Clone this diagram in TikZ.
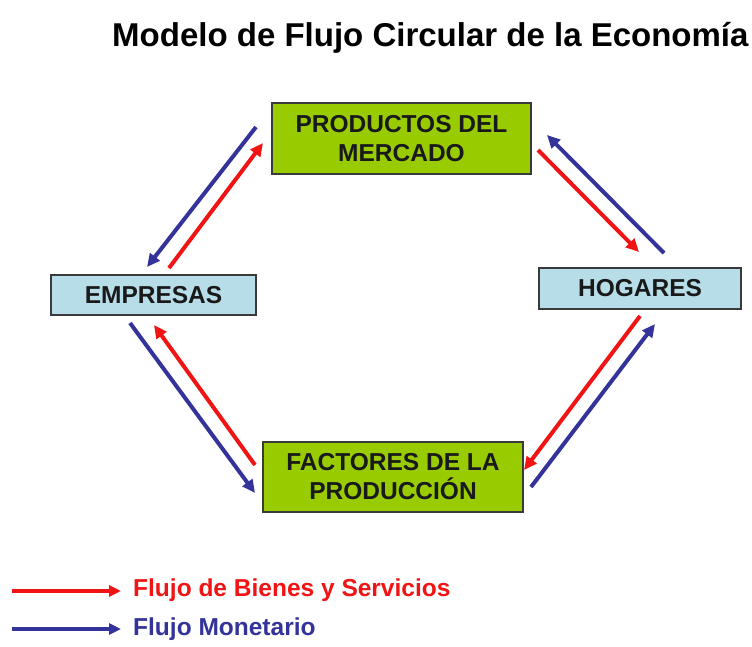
\documentclass[tikz,border=0pt]{standalone}
\usepackage{fontspec}
\setmainfont{Liberation Sans}
\usetikzlibrary{arrows.meta}
\definecolor{fred}{HTML}{F01414}
\definecolor{fblue}{HTML}{333399}
\definecolor{fgreen}{HTML}{99CC00}
\definecolor{flblue}{HTML}{B7DEE8}
\definecolor{fborder}{HTML}{3A3A3A}
\begin{document}
\begin{tikzpicture}[x=1pt,y=-1pt,
  box/.style={draw=fborder, line width=1.5pt, inner sep=0pt, align=center,
    font=\fontsize{24.5}{29}\selectfont\bfseries, text=black!90},
  gbox/.style={box, fill=fgreen},
  bbox/.style={box, fill=flblue},
  flow/.style={line width=4pt, -{Triangle[length=13pt,width=12pt]}},
  legflow/.style={line width=4pt, -{Triangle[length=12pt,width=11pt]}},
  legtext/.style={anchor=west, inner sep=0pt, font=\fontsize{24.5}{28}\selectfont\bfseries}
]
\useasboundingbox (0,0) rectangle (752,646);
\fill[white] (0,0) rectangle (752,646);

\node[anchor=base west, inner sep=0pt, font=\fontsize{33}{36}\selectfont\bfseries] (title) at (112,46) {Modelo de Flujo Circular de la Economía};

\node[gbox, minimum width=259pt, minimum height=71pt] (prod) at (401.5,138.5) {PRODUCTOS DEL\\MERCADO};
\node[bbox, minimum width=205pt, minimum height=40pt] (emp) at (153.5,295) {EMPRESAS};
\node[bbox, minimum width=202pt, minimum height=41pt] (hog) at (640,288.5) {HOGARES};
\node[gbox, minimum width=260pt, minimum height=70pt] (fact) at (393,477) {FACTORES DE LA\\PRODUCCIÓN};

% top-left
\coordinate (tlb1) at (256,127);
\coordinate (tlb2) at (147,267);
\coordinate (tlr1) at (169,268);
\coordinate (tlr2) at (263,143);
\draw[flow, fblue] (tlb1) -- (tlb2);
\draw[flow, fred] (tlr1) -- (tlr2);

% top-right
\coordinate (trr1) at (538,150);
\coordinate (trr2) at (639,252);
\coordinate (trb1) at (664,253);
\coordinate (trb2) at (547,135);
\draw[flow, fred] (trr1) -- (trr2);
\draw[flow, fblue] (trb1) -- (trb2);

% bottom-left
\coordinate (blb1) at (130,323);
\coordinate (blb2) at (255,493);
\coordinate (blr1) at (255,465);
\coordinate (blr2) at (154,325);
\draw[flow, fblue] (blb1) -- (blb2);
\draw[flow, fred] (blr1) -- (blr2);

% bottom-right
\coordinate (brr1) at (640,316);
\coordinate (brr2) at (524,470);
\coordinate (brb1) at (531,487);
\coordinate (brb2) at (655,324);
\draw[flow, fred] (brr1) -- (brr2);
\draw[flow, fblue] (brb1) -- (brb2);

% legend
\coordinate (lr1) at (12,591);
\coordinate (lr2) at (121,591);
\coordinate (lb1) at (12,629);
\coordinate (lb2) at (121,629);
\draw[legflow, fred] (lr1) -- (lr2);
\draw[legflow, fblue] (lb1) -- (lb2);
\node[legtext, text=fred] (lgr) at (133,590) {Flujo de Bienes y Servicios};
\node[legtext, text=fblue] (lgb) at (133,629) {Flujo Monetario};
\end{tikzpicture}
\end{document}
